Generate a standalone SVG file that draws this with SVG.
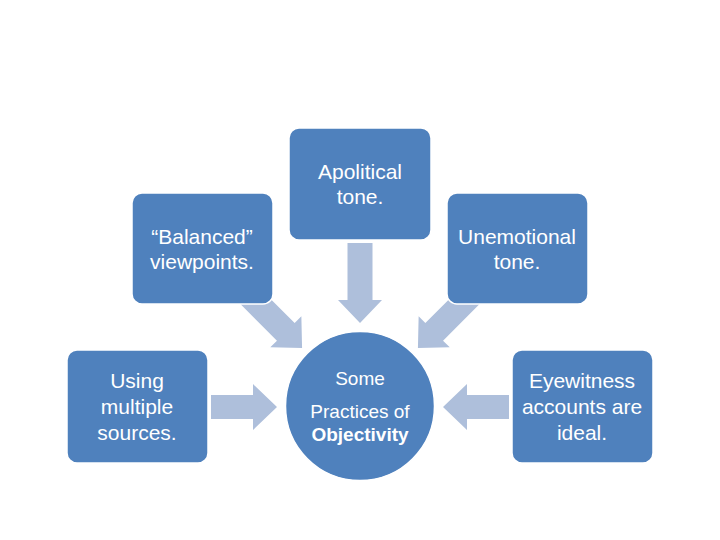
<svg xmlns="http://www.w3.org/2000/svg" width="720" height="540" viewBox="0 0 720 540">
<defs>
<style>
.box{fill:#4F81BD;stroke:#ffffff;stroke-width:1.5}
.arr{fill:#AEBFDB}
.t{font-family:"Liberation Sans",Arial,sans-serif;font-size:21px;fill:#ffffff;text-anchor:middle}
.c{font-family:"Liberation Sans",Arial,sans-serif;font-size:19px;fill:#ffffff;text-anchor:middle}
.b{font-weight:bold}
</style>
<path id="arrowShape" d="M0,-12.5 L57,-12.5 L57,-22 L80,0 L57,22 L57,12.5 L0,12.5 Z"/>
</defs>
<rect width="720" height="540" fill="#ffffff"/>
<g id="connectors">
<use href="#arrowShape" class="arr" transform="translate(360,243) rotate(90)"/>
<use href="#arrowShape" class="arr" transform="translate(245.5,291.5) rotate(45)"/>
<use href="#arrowShape" class="arr" transform="translate(474.5,291.5) rotate(135)"/>
<path class="arr" d="M211,395 L253,395 L253,384 L277,407 L253,430 L253,419 L211,419 Z"/>
<path class="arr" d="M509,395 L467,395 L467,384 L443,407 L467,430 L467,419 L509,419 Z"/>
</g>
<g id="node-center">
<circle class="box" cx="360" cy="406" r="74.5"/>
<text class="c" x="360" y="385">Some</text>
<text class="c" x="360" y="418">Practices of</text>
<text class="c b" x="360" y="441">Objectivity</text>
</g>
<g id="node-apolitical">
<rect class="box" x="289" y="128" width="142" height="112" rx="10"/>
<text class="t" x="360" y="179">Apolitical</text>
<text class="t" x="360" y="204">tone.</text>
</g>
<g id="node-balanced">
<rect class="box" x="132" y="193" width="141" height="111" rx="10"/>
<text class="t" x="202" y="244">“Balanced”</text>
<text class="t" x="202" y="269">viewpoints.</text>
</g>
<g id="node-unemotional">
<rect class="box" x="447" y="193" width="141" height="111" rx="10"/>
<text class="t" x="517" y="244">Unemotional</text>
<text class="t" x="517" y="269">tone.</text>
</g>
<g id="node-using">
<rect class="box" x="67" y="350" width="141" height="113" rx="10"/>
<text class="t" x="137" y="388">Using</text>
<text class="t" x="137" y="414">multiple</text>
<text class="t" x="137" y="440">sources.</text>
</g>
<g id="node-eyewitness">
<rect class="box" x="512" y="350" width="141" height="113" rx="10"/>
<text class="t" x="582" y="388">Eyewitness</text>
<text class="t" x="582" y="414">accounts are</text>
<text class="t" x="582" y="440">ideal.</text>
</g>
</svg>
